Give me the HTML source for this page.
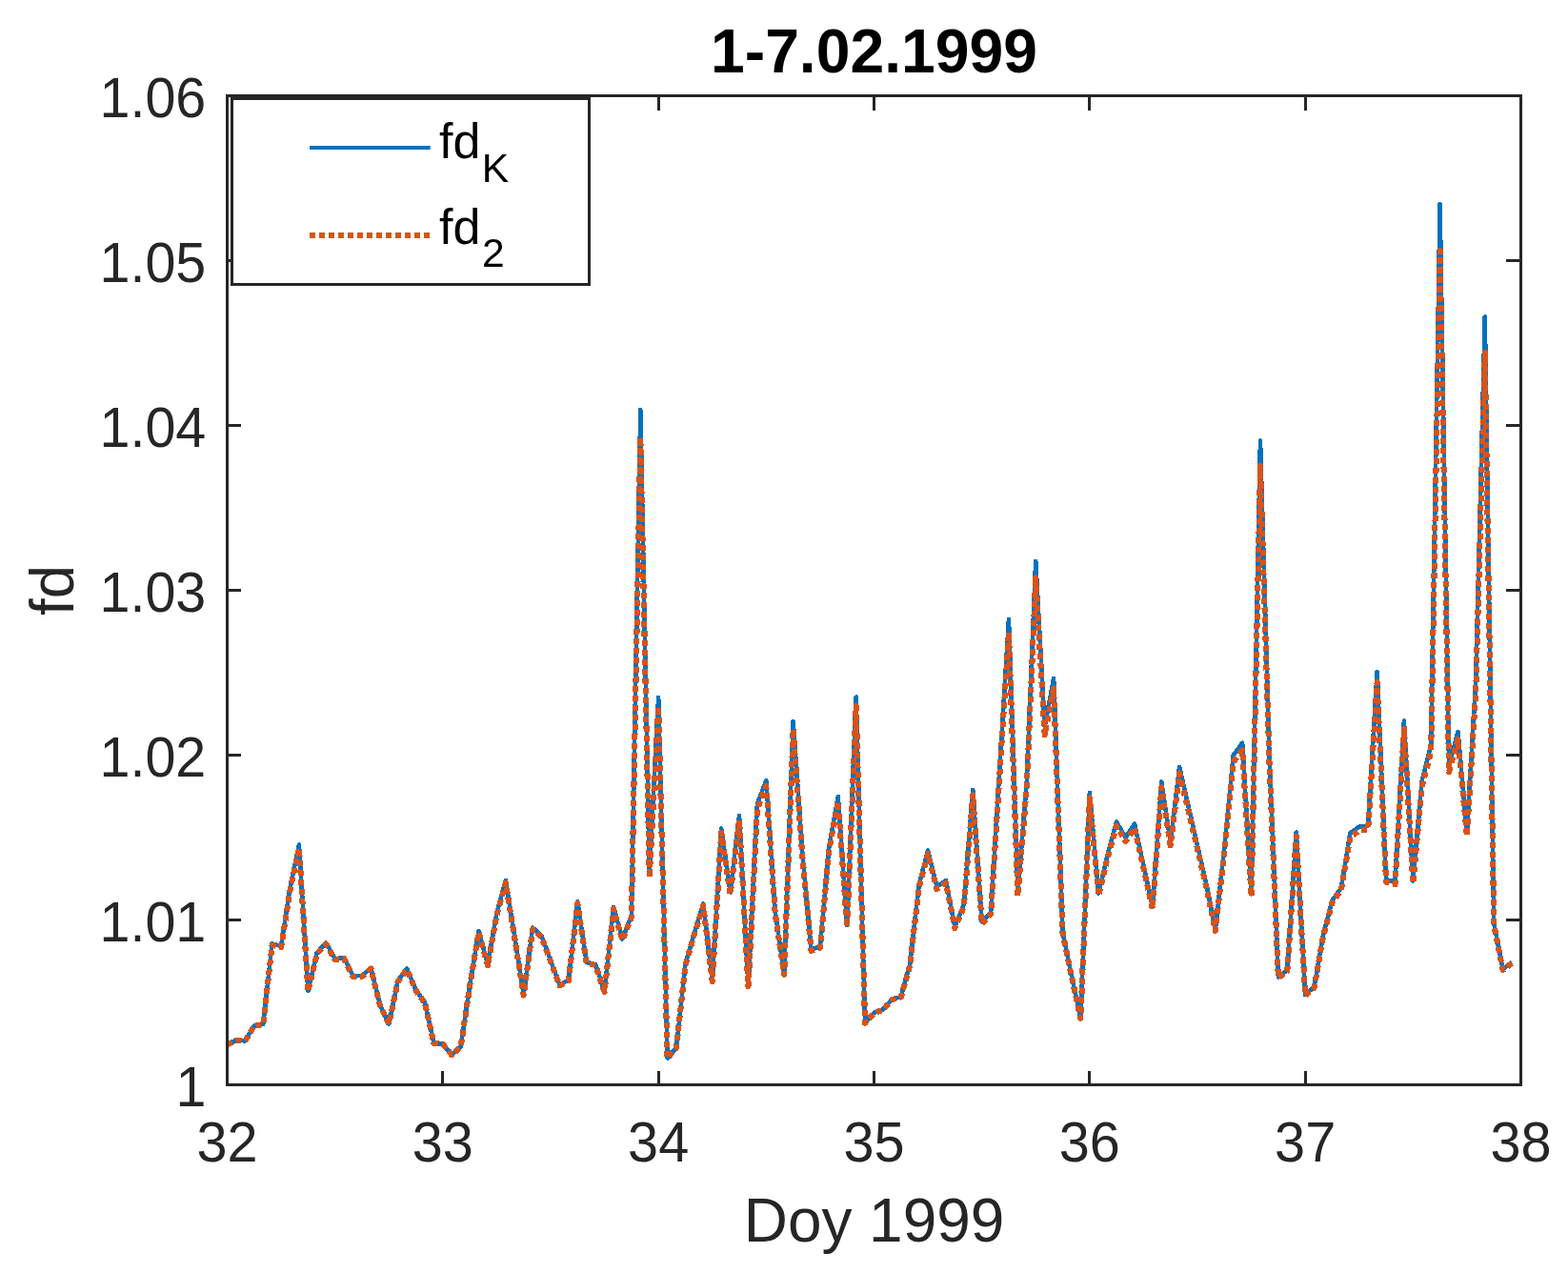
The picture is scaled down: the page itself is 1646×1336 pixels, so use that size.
<!DOCTYPE html>
<html lang="en">
<head>
<meta charset="utf-8">
<title>1-7.02.1999</title>
<style>
html,body{margin:0;padding:0;background:#fff;}
body{width:1646px;height:1336px;overflow:hidden;}
svg{display:block;}
</style>
</head>
<body>
<svg width="1646" height="1336" viewBox="0 0 1646 1336">
<rect x="0" y="0" width="1646" height="1336" fill="#fff"/>
<polyline points="238.50,1096.40 247.93,1091.90 257.36,1092.30 266.79,1076.50 276.22,1074.80 285.65,990.40 295.08,993.10 304.51,931.80 313.94,886.50 323.38,1040.00 332.81,999.70 342.24,989.50 351.67,1006.30 361.10,1004.80 370.53,1024.40 379.96,1024.00 389.39,1015.70 398.82,1054.20 408.25,1074.50 417.68,1029.50 427.11,1016.50 436.54,1038.80 445.97,1052.20 455.40,1094.80 464.83,1095.70 474.26,1107.00 483.69,1098.50 493.12,1034.70 502.56,977.00 511.99,1012.50 521.42,958.50 530.85,924.00 540.28,983.20 549.71,1044.00 559.14,973.50 568.57,982.20 578.00,1007.90 587.43,1033.60 596.86,1028.50 606.29,946.00 615.72,1010.00 625.15,1012.00 634.58,1040.50 644.01,952.00 653.44,985.50 662.88,960.60 672.31,430.00 681.74,918.00 691.17,732.00 700.60,1110.50 710.03,1099.50 719.46,1012.00 728.89,979.00 738.32,948.50 747.75,1029.50 757.18,869.50 766.61,936.50 776.04,856.00 785.47,1034.50 794.90,844.00 804.33,819.00 813.76,957.00 823.19,1022.00 832.62,757.00 842.06,892.00 851.49,996.50 860.92,993.50 870.35,888.00 879.78,836.00 889.21,971.00 898.64,731.50 908.07,1073.50 917.50,1062.90 926.93,1059.40 936.36,1048.70 945.79,1046.00 955.22,1012.00 964.65,928.70 974.08,892.50 983.51,930.50 992.94,924.00 1002.38,972.50 1011.81,949.30 1021.24,829.00 1030.67,967.50 1040.10,957.50 1049.53,804.00 1058.96,650.00 1068.39,938.00 1077.82,820.00 1087.25,589.00 1096.68,763.00 1106.11,712.00 1115.54,978.00 1124.97,1024.40 1134.40,1068.50 1143.83,832.00 1153.26,937.50 1162.69,896.60 1172.12,862.50 1181.56,879.20 1190.99,864.50 1200.42,907.90 1209.85,951.50 1219.28,820.50 1228.71,883.50 1238.14,805.00 1247.57,846.20 1257.00,887.30 1266.43,928.50 1275.86,975.50 1285.29,890.00 1294.72,792.60 1304.15,779.80 1313.58,938.50 1323.01,462.50 1332.44,792.00 1341.88,1025.50 1351.31,1018.20 1360.74,873.50 1370.17,1044.00 1379.60,1035.70 1389.03,981.20 1398.46,945.10 1407.89,931.80 1417.32,874.50 1426.75,867.50 1436.18,866.40 1445.61,705.00 1455.04,923.00 1464.47,925.50 1473.90,756.50 1483.33,924.50 1492.76,819.00 1502.19,782.00 1511.62,214.00 1521.06,803.50 1530.49,768.00 1539.92,873.50 1549.35,712.00 1558.78,332.50 1568.21,968.80 1577.64,1017.00 1587.07,1010.00" fill="none" stroke="#0072BD" stroke-width="4.6" stroke-linejoin="round" stroke-linecap="butt" shape-rendering="crispEdges"/>
<polyline points="238.50,1096.50 247.93,1092.03 257.36,1092.42 266.79,1076.72 276.22,1075.03 285.65,991.67 295.08,994.32 304.51,934.27 313.94,890.17 323.38,1040.56 332.81,1000.81 342.24,990.78 351.67,1007.31 361.10,1005.83 370.53,1025.15 379.96,1024.76 389.39,1016.57 398.82,1054.61 408.25,1074.74 417.68,1030.19 427.11,1017.36 436.54,1039.37 445.97,1052.63 455.40,1094.91 464.83,1095.81 474.26,1107.06 483.69,1098.59 493.12,1035.32 502.56,978.51 511.99,1013.42 521.42,960.37 530.85,926.66 540.28,984.59 549.71,1044.52 559.14,975.07 568.57,983.61 578.00,1008.89 587.43,1034.24 596.86,1029.20 606.29,948.14 615.72,1010.95 625.15,1012.92 634.58,1041.06 644.01,954.01 653.44,986.85 662.88,962.43 672.31,459.02 681.74,920.81 691.17,741.55 700.60,1110.55 710.03,1099.59 719.46,1012.92 728.89,980.47 738.32,950.59 747.75,1030.19 757.18,873.68 766.61,938.86 776.04,860.61 785.47,1035.13 794.90,849.01 804.33,824.90 813.76,958.90 823.19,1022.78 832.62,765.41 842.06,895.51 851.49,997.67 860.92,994.72 870.35,891.63 879.78,841.29 889.21,972.62 898.64,741.08 908.07,1073.74 917.50,1063.23 926.93,1059.76 936.36,1049.17 945.79,1046.49 955.22,1012.92 964.65,931.24 974.08,896.00 983.51,933.00 992.94,926.66 1002.38,974.09 1011.81,951.37 1021.24,834.54 1030.67,969.19 1040.10,959.39 1049.53,810.47 1058.96,663.79 1068.39,940.32 1077.82,825.86 1087.25,606.45 1096.68,771.15 1106.11,722.51 1115.54,979.49 1124.97,1025.15 1134.40,1068.78 1143.83,837.43 1153.26,939.84 1162.69,899.98 1172.12,866.90 1181.56,883.09 1190.99,868.84 1200.42,910.97 1209.85,953.52 1219.28,826.35 1228.71,887.26 1238.14,811.43 1247.57,851.14 1257.00,890.95 1266.43,931.05 1275.86,977.04 1285.29,893.57 1294.72,799.52 1304.15,787.24 1313.58,940.81 1323.01,488.91 1332.44,798.94 1341.88,1026.24 1351.31,1019.04 1360.74,877.56 1370.17,1044.52 1379.60,1036.31 1389.03,982.63 1398.46,947.26 1407.89,934.27 1417.32,878.53 1426.75,871.75 1436.18,870.68 1445.61,715.86 1455.04,925.68 1464.47,928.12 1473.90,764.93 1483.33,927.15 1492.76,824.90 1502.19,789.35 1511.62,263.40 1521.06,809.99 1530.49,775.93 1539.92,877.56 1549.35,722.51 1558.78,370.05 1568.21,970.46 1577.64,1017.85 1587.07,1010.95" fill="none" stroke="#D95319" stroke-width="6.1" stroke-linejoin="round" stroke-linecap="butt" stroke-dasharray="6 4" shape-rendering="crispEdges"/>
<rect x="238.5" y="100.5" width="1358.00" height="1038.00" fill="none" stroke="#262626" stroke-width="3"/>
<path d="M238.50 1138.5 v-14.5 M238.50 100.5 v15.5 M464.50 1138.5 v-14.5 M464.50 100.5 v15.5 M691.50 1138.5 v-14.5 M691.50 100.5 v15.5 M917.50 1138.5 v-14.5 M917.50 100.5 v15.5 M1143.50 1138.5 v-14.5 M1143.50 100.5 v15.5 M1370.50 1138.5 v-14.5 M1370.50 100.5 v15.5 M1596.50 1138.5 v-14.5 M1596.50 100.5 v15.5 M238.5 1138.50 h14.5 M1596.5 1138.50 h-15.5 M238.5 965.50 h14.5 M1596.5 965.50 h-15.5 M238.5 792.50 h14.5 M1596.5 792.50 h-15.5 M238.5 619.50 h14.5 M1596.5 619.50 h-15.5 M238.5 446.50 h14.5 M1596.5 446.50 h-15.5 M238.5 273.50 h14.5 M1596.5 273.50 h-15.5 M238.5 100.50 h14.5 M1596.5 100.50 h-15.5" fill="none" stroke="#262626" stroke-width="3"/>
<g font-family="'Liberation Sans', Arial, Helvetica, sans-serif" fill="#262626" font-size="59.1">
<text x="238.50" y="1219.2" text-anchor="middle" textLength="64.1" lengthAdjust="spacingAndGlyphs">32</text>
<text x="464.83" y="1219.2" text-anchor="middle" textLength="64.1" lengthAdjust="spacingAndGlyphs">33</text>
<text x="691.17" y="1219.2" text-anchor="middle" textLength="64.1" lengthAdjust="spacingAndGlyphs">34</text>
<text x="917.50" y="1219.2" text-anchor="middle" textLength="64.1" lengthAdjust="spacingAndGlyphs">35</text>
<text x="1143.83" y="1219.2" text-anchor="middle" textLength="64.1" lengthAdjust="spacingAndGlyphs">36</text>
<text x="1370.17" y="1219.2" text-anchor="middle" textLength="64.1" lengthAdjust="spacingAndGlyphs">37</text>
<text x="1596.50" y="1219.2" text-anchor="middle" textLength="64.1" lengthAdjust="spacingAndGlyphs">38</text>
<text x="216.3" y="1161.10" text-anchor="end" textLength="31.9" lengthAdjust="spacingAndGlyphs">1</text>
<text x="216.3" y="988.10" text-anchor="end" textLength="111.8" lengthAdjust="spacingAndGlyphs">1.01</text>
<text x="216.3" y="815.10" text-anchor="end" textLength="111.8" lengthAdjust="spacingAndGlyphs">1.02</text>
<text x="216.3" y="642.10" text-anchor="end" textLength="111.8" lengthAdjust="spacingAndGlyphs">1.03</text>
<text x="216.3" y="469.10" text-anchor="end" textLength="111.8" lengthAdjust="spacingAndGlyphs">1.04</text>
<text x="216.3" y="296.10" text-anchor="end" textLength="111.8" lengthAdjust="spacingAndGlyphs">1.05</text>
<text x="216.3" y="123.10" text-anchor="end" textLength="111.8" lengthAdjust="spacingAndGlyphs">1.06</text>
</g>
<text x="917.50" y="1303" text-anchor="middle" textLength="273.5" lengthAdjust="spacingAndGlyphs" font-family="'Liberation Sans', Arial, Helvetica, sans-serif" fill="#262626" font-size="65.2">Doy 1999</text>
<text transform="translate(76.5,619.50) rotate(-90)" text-anchor="middle" textLength="53" lengthAdjust="spacingAndGlyphs" font-family="'Liberation Sans', Arial, Helvetica, sans-serif" fill="#262626" font-size="65.2">fd</text>
<text x="917.50" y="75.7" text-anchor="middle" textLength="343" lengthAdjust="spacingAndGlyphs" font-family="'Liberation Sans', Arial, Helvetica, sans-serif" font-weight="bold" fill="#000" font-size="64.3">1-7.02.1999</text>
<rect x="243.5" y="103.5" width="375" height="195" fill="#fff" stroke="#262626" stroke-width="3"/>
<line x1="325" y1="155" x2="451.7" y2="155" stroke="#0072BD" stroke-width="4"/>
<line x1="325" y1="247" x2="451.7" y2="247" stroke="#D95319" stroke-width="6" stroke-dasharray="6 4"/>
<g font-family="'Liberation Sans', Arial, Helvetica, sans-serif" fill="#000">
<text x="461" y="166" font-size="52">fd<tspan dx="1.3" dy="25" font-size="42.6">K</tspan></text>
<text x="461" y="255.8" font-size="52">fd<tspan dx="1.6" dy="24.4" font-size="42.6">2</tspan></text>
</g>
</svg>
</body>
</html>
